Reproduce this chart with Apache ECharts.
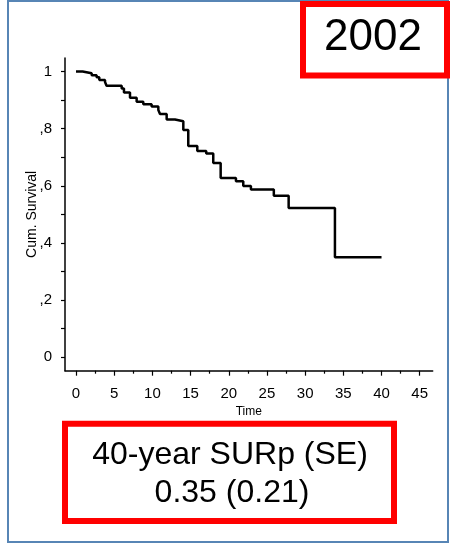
<!DOCTYPE html>
<html>
<head>
<meta charset="utf-8">
<script src="https://cdn.jsdelivr.net/npm/echarts/dist/echarts.min.js"></script>
<style>
  html, body { margin: 0; padding: 0; background: #fff; }
  #chart { width: 451px; height: 544px; }
</style>
</head>
<body>
<div id="chart"></div>
<script>
// Kaplan-Meier steps: survival holds from each time onward
const times = [0, 0.87, 2.05, 2.7, 3.05, 3.8, 4.0, 5.98, 6.28, 7.07, 7.94, 8.81, 9.9, 10.78, 11.0,
  11.87, 12.96, 14.05, 14.7, 15.88, 17.05, 17.97, 18.94, 20.94, 21.9, 22.9, 25.9, 27.84, 33.9, 40];
const survival = [1.0, 0.994, 0.987, 0.98, 0.970, 0.963, 0.950, 0.940, 0.926, 0.908, 0.894, 0.885, 0.877, 0.865, 0.851,
  0.832, 0.826, 0.795, 0.739, 0.722, 0.713, 0.680, 0.627, 0.616, 0.599, 0.587, 0.565, 0.522, 0.350, 0.350];

const xTicks = [0, 5, 10, 15, 20, 25, 30, 35, 40, 45];
const xMinorTicks = [2.5, 7.5, 12.5, 17.5, 22.5, 27.5, 32.5, 37.5, 42.5];
const yTicks = [0, 0.1, 0.2, 0.3, 0.4, 0.5, 0.6, 0.7, 0.8, 0.9, 1];
const yLabelValues = [0, 0.2, 0.4, 0.6, 0.8, 1];
const yLabels = ['0', ',2', ',4', ',6', ',8', '1'];

const yearText = '2002';
const summaryLines = ['40-year SURp (SE)', '0.35 (0.21)'];

const font = 'Arial, "Liberation Sans", sans-serif';

const chart = echarts.init(document.getElementById('chart'));

chart.setOption({
  animation: false,
  backgroundColor: '#fff',
  grid: { left: 65, right: 18.3, top: 58, bottom: 173.3 },
  xAxis: [
    {
      type: 'value',
      min: -1.44,
      max: 46.7,
      name: 'Time',
      nameLocation: 'middle',
      nameGap: 35,
      nameMoveOverlap: false,
      nameTextStyle: { color: '#000', fontSize: 12, fontFamily: font },
      axisLine: { onZero: false, lineStyle: { color: '#000', width: 1.5 } },
      axisTick: { customValues: xTicks, length: 5, lineStyle: { color: '#000', width: 1.2 } },
      axisLabel: { customValues: xTicks, color: '#000', fontSize: 15, fontFamily: font, margin: 16 },
      splitLine: { show: false }
    },
    {
      // minor ticks only
      type: 'value',
      min: -1.44,
      max: 46.7,
      position: 'bottom',
      axisLine: { show: false, onZero: false },
      axisTick: { customValues: xMinorTicks, length: 3, lineStyle: { color: '#000', width: 1.2 } },
      axisLabel: { show: false },
      splitLine: { show: false }
    }
  ],
  yAxis: {
    type: 'value',
    min: -0.047,
    max: 1.047,
    name: 'Cum. Survival',
    nameLocation: 'middle',
    nameGap: 26,
    nameMoveOverlap: false,
    nameTextStyle: { color: '#000', fontSize: 14, fontFamily: font },
    axisLine: { show: true, onZero: false, lineStyle: { color: '#000', width: 1.5 } },
    axisTick: { show: true, customValues: yTicks, length: 4, lineStyle: { color: '#000', width: 1.2 } },
    axisLabel: {
      customValues: yLabelValues,
      color: '#000',
      fontSize: 15,
      fontFamily: font,
      margin: 13,
      formatter: (v) => {
        const i = yLabelValues.findIndex((d) => Math.abs(d - v) < 1e-6);
        return i >= 0 ? yLabels[i] : '';
      }
    },
    splitLine: { show: false }
  },
  series: [
    {
      type: 'line',
      step: 'end',
      data: times.map((t, i) => [t, survival[i]]),
      showSymbol: false,
      lineStyle: { color: '#000', width: 2.5 }
    }
  ],
  graphic: [
    {
      type: 'rect',
      shape: { x: 8, y: 1, width: 440, height: 541 },
      style: { fill: 'none', stroke: '#5785b5', lineWidth: 2 },
      z: 0
    },
    {
      type: 'rect',
      shape: { x: 303, y: 4, width: 144, height: 71.5 },
      style: { fill: '#fff', stroke: '#ff0000', lineWidth: 6 },
      z: 10
    },
    {
      type: 'text',
      style: {
        text: yearText, x: 373, y: 38, fill: '#000',
        font: '44px ' + font, textAlign: 'center', textVerticalAlign: 'middle'
      },
      z: 11
    },
    {
      type: 'rect',
      shape: { x: 65, y: 423.7, width: 329, height: 97.3 },
      style: { fill: '#fff', stroke: '#ff0000', lineWidth: 6 },
      z: 10
    },
    {
      type: 'text',
      style: {
        text: summaryLines[0], x: 230, y: 455, fill: '#000',
        font: '32px ' + font, textAlign: 'center', textVerticalAlign: 'middle'
      },
      z: 11
    },
    {
      type: 'text',
      style: {
        text: summaryLines[1], x: 232, y: 493, fill: '#000',
        font: '32px ' + font, textAlign: 'center', textVerticalAlign: 'middle'
      },
      z: 11
    }
  ]
});
</script>
</body>
</html>
